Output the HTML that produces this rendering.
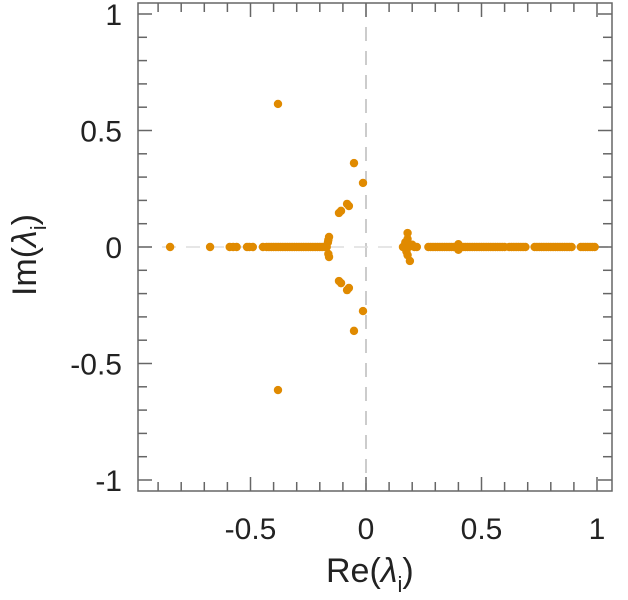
<!DOCTYPE html>
<html><head><meta charset="utf-8"><style>
html,body{margin:0;padding:0;background:#fff;}
svg{display:block;font-family:"Liberation Sans",sans-serif;}
</style></head><body>
<svg id="chart" width="628" height="600"></svg>
<script>
const reVals = [-0.848,-0.675,-0.59,-0.575,-0.56,-0.515,-0.505,-0.49,-0.446,-0.43,-0.42,-0.41,-0.40,-0.39,-0.38,-0.37,-0.36,-0.35,-0.34,-0.33,-0.32,-0.31,-0.30,-0.29,-0.28,-0.27,-0.26,-0.25,-0.24,-0.23,-0.22,-0.21,-0.20,-0.19,-0.18,-0.17,-0.165,-0.163,-0.163,-0.16,-0.16,
 -0.117,-0.108,-0.082,-0.074,-0.052,-0.013,-0.381,
 -0.117,-0.108,-0.082,-0.074,-0.052,-0.013,-0.381,
 0.16,0.17,0.175,0.18,0.18,0.18,0.185,0.19,0.2,0.21,0.22,
 0.27,0.28,0.29,0.30,0.31,0.32,0.33,0.34,0.35,0.36,0.37,0.38,0.39,0.40,0.40,0.40,0.41,0.42,0.43,0.44,0.45,0.46,0.47,0.48,0.49,0.50,0.51,0.52,0.53,0.54,0.55,0.56,0.57,0.58,0.59,0.60,0.62,0.63,0.64,0.65,0.66,0.67,0.68,0.69,
 0.73,0.74,0.75,0.76,0.77,0.78,0.79,0.80,0.81,0.82,0.83,0.84,0.85,0.86,0.87,0.88,0.89,0.93,0.94,0.95,0.96,0.97,0.98,0.99];
const imVals = [0,0,0,0,0,0,0,0,0,0,0,0,0,0,0,0,0,0,0,0,0,0,0,0,0,0,0,0,0,0,0,0,0,0,0,0,0.02,0.03,-0.03,0.043,-0.043,
 0.146,0.155,0.185,0.176,0.36,0.275,0.614,
 -0.146,-0.155,-0.185,-0.176,-0.36,-0.275,-0.614,
 0,0.02,-0.02,0.06,0.035,-0.035,0,-0.06,0.01,0,0,
 0,0,0,0,0,0,0,0,0,0,0,0,0,0,0.012,-0.012,0,0,0,0,0,0,0,0,0,0,0,0,0,0,0,0,0,0,0,0,0,0,0,0,0,0,0,0,
 0,0,0,0,0,0,0,0,0,0,0,0,0,0,0,0,0,0,0,0,0,0,0,0];
const xTickVals = [-0.5,0,0.5,1];
const xTickLabels = ["-0.5","0","0.5","1"];
const yTickVals = [-1,-0.5,0,0.5,1];
const yTickLabels = ["-1","-0.5","0","0.5","1"];

const L=138,R=612,T=3,B=491;
const X = v => 366 + v*231;
const Y = v => 247 - v*233;
const svg = document.getElementById('chart');
const NS='http://www.w3.org/2000/svg';
function mk(tag, attrs, parent){const e=document.createElementNS(NS,tag);for(const k in attrs)e.setAttribute(k,attrs[k]);(parent||svg).appendChild(e);return e;}

let zx = mk('line',{x1:X(0),x2:X(0),y1:T,y2:B,stroke:'#bbb','stroke-width':1.5,'stroke-dasharray':'14,10'});


let zy = mk('line',{x1:L,x2:R,y1:Y(0),y2:Y(0),stroke:'#ddd','stroke-width':1.5,'stroke-dasharray':'14,10'});



for(let i=-10;i<=11;i++){const v=i/10;const x=X(v);if(x<L||x>R)continue;const maj=(i%5===0);const len=maj?14:9;
 let t1=mk('line',{x1:x,x2:x,y1:B,y2:B-len,stroke:'#666','stroke-width':1.5});
 
 
 let t2=mk('line',{x1:x,x2:x,y1:T,y2:T+len,stroke:'#666','stroke-width':1.5});
 
 }
for(let i=-10;i<=10;i++){const v=i/10;const y=Y(v);const maj=(i%5===0);const len=maj?14:9;
 let t1=mk('line',{x1:L,x2:L+len,y1:y,y2:y,stroke:'#666','stroke-width':1.5});
 
 
 let t2=mk('line',{x1:R,x2:R-len,y1:y,y2:y,stroke:'#666','stroke-width':1.5});
 
 }

const n = Math.min(reVals.length, imVals.length);
for(let i=0;i<n;i++){
 let c=mk('circle',{cx:X(reVals[i]),cy:Y(imVals[i]),r:4.2,fill:'#e08a00'});
 
 
}

let fr=mk('rect',{x:L,y:T,width:R-L,height:B-T,fill:'none',stroke:'#666','stroke-width':1.5});



xTickVals.forEach((v,i)=>{let t=mk('text',{x:X(v),y:539,'text-anchor':'middle','font-size':30,fill:'#222'});t.textContent=xTickLabels[i];
 
 });
yTickVals.forEach((v,i)=>{let t=mk('text',{x:122,y:Y(v)+11,'text-anchor':'end','font-size':30,fill:'#222'});t.textContent=yTickLabels[i];
 
 });
</script>
<svg width="628" height="600" style="position:absolute;left:0;top:0">
 <text x="326" y="582" font-size="34" fill="#222" font-family="Liberation Sans, sans-serif">Re(<tspan font-style="italic">λ</tspan><tspan font-size="22" dy="10">i</tspan><tspan dy="-10">)</tspan></text>
 <text transform="translate(36,255) rotate(-90)" x="0" y="0" text-anchor="middle" font-size="34" fill="#222" font-family="Liberation Sans, sans-serif">Im(<tspan font-style="italic">λ</tspan><tspan font-size="22" dy="10">i</tspan><tspan dy="-10">)</tspan></text>
</svg>
</body></html>
